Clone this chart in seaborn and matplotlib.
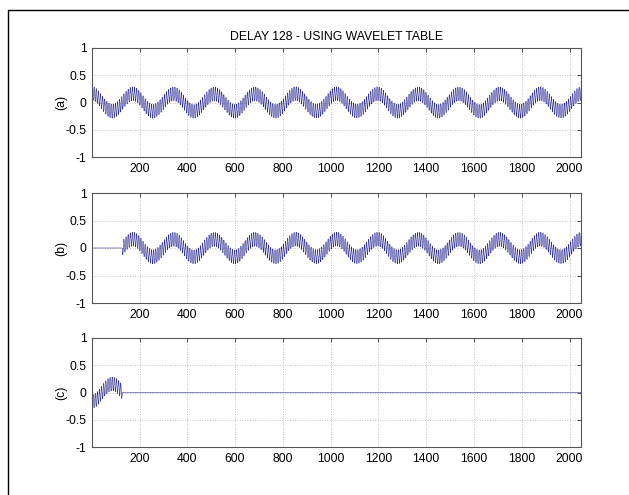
import numpy as np
import pandas as pd
import matplotlib
matplotlib.use("Agg")
import matplotlib.pyplot as plt
from matplotlib.lines import Line2D
import seaborn as sns

# ---- data ----
n_samples = 2048
delay = 128
slow_cycles = [12]          # slow wave: cycles over the record
slow_amps = [0.16]          # slow wave amplitude
fast_cycles = [230]         # fast ripple: cycles over the record
fast_amps = [0.13]          # fast ripple amplitude
panel_labels = ["(a)", "(b)", "(c)"]
x_ticks = [200, 400, 600, 800, 1000, 1200, 1400, 1600, 1800, 2000]
y_ticks = [-1, -0.5, 0, 0.5, 1]
y_tick_labels = ["-1", "-0.5", "0", "0.5", "1"]
title = "DELAY 128 - USING WAVELET TABLE"

n = np.arange(1, n_samples + 1)
t = (n - 1) / n_samples
sig_a = (slow_amps[0] * np.cos(2 * np.pi * slow_cycles[0] * t)
         + fast_amps[0] * np.cos(2 * np.pi * fast_cycles[0] * t))
sig_b = sig_a.copy()
sig_b[n < delay] = 0.0
sig_c = sig_b - sig_a

df = pd.DataFrame({"n": n, "a": sig_a, "b": sig_b, "c": sig_c})

sns.set_style("white")
plt.rcParams["font.family"] = ["Liberation Sans", "DejaVu Sans"]
plt.rcParams["text.color"] = "black"
plt.rcParams["axes.labelcolor"] = "black"
plt.rcParams["xtick.color"] = "black"
plt.rcParams["ytick.color"] = "black"

fig = plt.figure(figsize=(6.29, 4.95), dpi=100)
fig.patch.set_facecolor("white")

W, H = 629, 495
left_px, right_px = 92, 581
panels_px = [(48, 157), (193, 303), (338, 447)]
line_color = "#2c2c94"
fs = 8.8

for key, lab, (top, bot) in zip(["a", "b", "c"], panel_labels, panels_px):
    ax = fig.add_axes([left_px / W, 1 - bot / H, (right_px - left_px) / W, (bot - top) / H])
    sns.lineplot(data=df, x="n", y=key, ax=ax, color=line_color, linewidth=0.4,
                 estimator=None, errorbar=None, legend=False)
    ax.set_xlim(1, n_samples)
    ax.set_ylim(-1, 1)
    ax.set_xticks(x_ticks)
    ax.set_xticklabels([str(v) for v in x_ticks], fontsize=fs)
    ax.set_yticks(y_ticks)
    ax.set_yticklabels(y_tick_labels, fontsize=fs)
    ax.set_xlabel("")
    ax.set_ylabel(lab, fontsize=fs, labelpad=-1)
    ax.grid(True, linestyle=(0, (1, 2)), color="#b0b0b0", linewidth=0.6)
    ax.tick_params(direction="in", length=3, width=0.6, top=True, right=True,
                   color="#333333", pad=4)
    for s in ax.spines.values():
        s.set_visible(True)
        s.set_color("#555555")
        s.set_linewidth(0.8)
    if key == "a":
        ax.set_title(title, fontsize=fs, pad=6)

# figure frame lines (top and left)
fig.add_artist(Line2D([7.5 / W, 1.0], [1 - 10 / H, 1 - 10 / H], color="black", linewidth=1.0,
                      transform=fig.transFigure))
fig.add_artist(Line2D([7.5 / W, 7.5 / W], [0.0, 1 - 10 / H], color="black", linewidth=1.0,
                      transform=fig.transFigure))

fig.savefig("out.png", dpi=100)
